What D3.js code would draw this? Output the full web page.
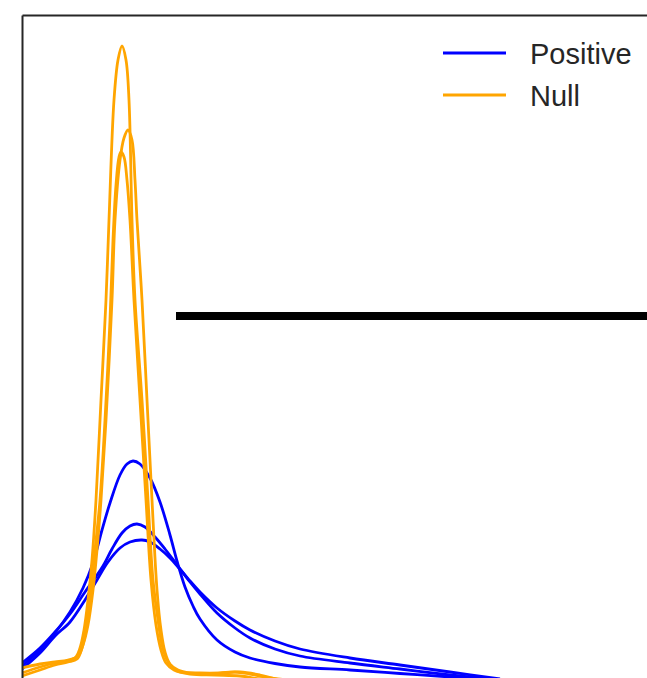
<!DOCTYPE html>
<html>
<head>
<meta charset="utf-8">
<script src="https://cdn.jsdelivr.net/npm/d3@7"></script>
<style>
  body { margin: 0; background: #fff; }
  svg { display: block; }
</style>
</head>
<body>
<div id="chart"></div>
<script>
// Data: density curves, [score, density]
const positive_1 = [
    [0.00, 0.14], [0.18, 0.30], [0.33, 0.47], [0.48, 0.68], [0.61, 0.92], [0.71, 1.17],
    [0.80, 1.50], [0.88, 1.77], [0.98, 2.05], [1.05, 2.16], [1.11, 2.19], [1.18, 2.16],
    [1.28, 2.02], [1.38, 1.78], [1.48, 1.45], [1.55, 1.19], [1.63, 0.93], [1.71, 0.74],
    [1.78, 0.61], [1.95, 0.40], [2.13, 0.28], [2.28, 0.22], [2.53, 0.165], [2.78, 0.13],
    [3.28, 0.10], [3.78, 0.065], [4.28, 0.03], [4.58, 0.01]
];
const positive_2 = [
    [0.00, 0.17], [0.18, 0.32], [0.33, 0.48], [0.48, 0.66], [0.63, 0.88], [0.73, 1.02],
    [0.81, 1.14], [0.90, 1.31], [1.00, 1.47], [1.08, 1.54], [1.15, 1.56], [1.23, 1.53],
    [1.33, 1.43], [1.43, 1.31], [1.56, 1.14], [1.68, 0.98], [1.78, 0.86], [1.95, 0.67],
    [2.13, 0.52], [2.28, 0.42], [2.53, 0.31], [2.78, 0.24], [3.28, 0.17], [3.78, 0.11],
    [4.28, 0.05], [4.68, 0.01]
];
const positive_3 = [
    [0.00, 0.11], [0.18, 0.27], [0.33, 0.44], [0.48, 0.58], [0.63, 0.80], [0.75, 1.00],
    [0.86, 1.18], [0.98, 1.32], [1.08, 1.38], [1.20, 1.40], [1.28, 1.38], [1.38, 1.31],
    [1.48, 1.22], [1.56, 1.13], [1.68, 0.99], [1.78, 0.88], [1.95, 0.72], [2.13, 0.59],
    [2.28, 0.50], [2.53, 0.39], [2.78, 0.31], [3.28, 0.22], [3.78, 0.15], [4.28, 0.08],
    [4.78, 0.01]
];
const null_1 = [
    [0.00, 0.07], [0.18, 0.13], [0.33, 0.17], [0.46, 0.19], [0.54, 0.23], [0.58, 0.32],
    [0.62, 0.50], [0.66, 0.80], [0.70, 1.20], [0.74, 1.80], [0.79, 2.80], [0.84, 3.80],
    [0.87, 4.60], [0.92, 5.80], [0.96, 6.20], [1.00, 6.34], [1.04, 6.20], [1.07, 5.80],
    [1.10, 4.60], [1.13, 3.80], [1.20, 2.80], [1.26, 1.80], [1.31, 1.00], [1.36, 0.60],
    [1.40, 0.35], [1.45, 0.20], [1.51, 0.12], [1.58, 0.08], [1.78, 0.07], [1.98, 0.07],
    [2.18, 0.08], [2.38, 0.05], [2.58, 0.00]
];
const null_2 = [
    [0.00, 0.12], [0.18, 0.16], [0.33, 0.18], [0.46, 0.20], [0.56, 0.24], [0.61, 0.35],
    [0.66, 0.55], [0.71, 0.90], [0.75, 1.30], [0.79, 1.80], [0.84, 2.60], [0.90, 3.80],
    [0.93, 4.60], [0.98, 5.20], [1.02, 5.42], [1.06, 5.50], [1.10, 5.40], [1.13, 5.00],
    [1.15, 4.60], [1.20, 3.80], [1.25, 2.80], [1.30, 1.80], [1.35, 0.90], [1.39, 0.50],
    [1.43, 0.28], [1.48, 0.16], [1.56, 0.10], [1.68, 0.07], [1.88, 0.06], [2.13, 0.08],
    [2.28, 0.06], [2.48, 0.02], [2.68, 0.00]
];
const null_3 = [
    [0.00, 0.04], [0.18, 0.10], [0.33, 0.15], [0.46, 0.18], [0.55, 0.21], [0.60, 0.32],
    [0.64, 0.50], [0.69, 0.90], [0.73, 1.30], [0.78, 1.80], [0.83, 2.60], [0.88, 3.60],
    [0.91, 4.40], [0.94, 4.95], [0.97, 5.23], [0.99, 5.28], [1.02, 5.23], [1.05, 5.00],
    [1.08, 4.60], [1.12, 3.80], [1.18, 2.80], [1.24, 1.80], [1.29, 1.00], [1.34, 0.55],
    [1.39, 0.30], [1.44, 0.17], [1.52, 0.10], [1.68, 0.06], [1.93, 0.05], [2.18, 0.04],
    [2.38, 0.01], [2.53, 0.00]
];
const threshold = { value: 3.64, from: 1.54, to: 6.25 };

const series = [
    { label: 'Positive', color: 'blue', curves: [positive_1, positive_2, positive_3] },
    { label: 'Null', color: 'orange', curves: [null_1, null_2, null_3] },
];

const chart_width = 647;
const chart_height = 678;
const margin = { left: 22, top: 15 };

// Scales
const x_scale = d3.scaleLinear()
    .domain([0, 6.25])
    .range([margin.left, chart_width]);

const y_scale = d3.scaleLinear()
    .domain([0, 6.65])
    .range([680, margin.top]);

// SVG
const svg = d3.select('#chart')
    .append('svg')
    .attr('width', chart_width)
    .attr('height', chart_height);

svg.append('clipPath')
    .attr('id', 'plot-clip')
    .append('rect')
    .attr('x', margin.left)
    .attr('y', margin.top)
    .attr('width', chart_width - margin.left)
    .attr('height', chart_height - margin.top);

const line = d3.line()
    .x(d => x_scale(d[0]))
    .y(d => y_scale(d[1]))
    .curve(d3.curveCatmullRom.alpha(0.5));

// Curves
const groups = svg.selectAll('g.series')
    .data(series)
    .enter()
    .append('g')
    .attr('class', 'series')
    .attr('clip-path', 'url(#plot-clip)');

groups.selectAll('path')
    .data(d => d.curves.map(c => ({ color: d.color, values: c })))
    .enter()
    .append('path')
    .attr('fill', 'none')
    .attr('stroke', d => d.color)
    .attr('stroke-width', 2.8)
    .attr('d', d => line(d.values));

// Threshold line
svg.append('line')
    .attr('x1', x_scale(threshold.from))
    .attr('x2', x_scale(threshold.to))
    .attr('y1', y_scale(threshold.value))
    .attr('y2', y_scale(threshold.value))
    .attr('stroke', 'black')
    .attr('stroke-width', 8);

// Spines
svg.append('g')
    .attr('transform', `translate(${margin.left},0)`)
    .call(d3.axisLeft(y_scale).ticks(0).tickSizeOuter(0))
    .call(g => g.select('.domain').attr('stroke', '#262626').attr('stroke-width', 2));

svg.append('g')
    .attr('transform', `translate(0,${margin.top})`)
    .call(d3.axisTop(x_scale).ticks(0).tickSizeOuter(0))
    .call(g => g.select('.domain').attr('stroke', '#262626').attr('stroke-width', 2));

// Legend
const legend = svg.selectAll('g.legend')
    .data(series)
    .enter()
    .append('g')
    .attr('class', 'legend')
    .attr('transform', (d, i) => `translate(443,${53 + i * 42})`);

legend.append('line')
    .attr('x1', 0)
    .attr('x2', 63)
    .attr('stroke', d => d.color)
    .attr('stroke-width', 2.8);

legend.append('text')
    .attr('x', 87)
    .attr('y', 10.5)
    .attr('fill', '#262626')
    .style('font-family', '"Liberation Sans", Arial, sans-serif')
    .style('font-size', '29px')
    .text(d => d.label);
</script>
</body>
</html>
